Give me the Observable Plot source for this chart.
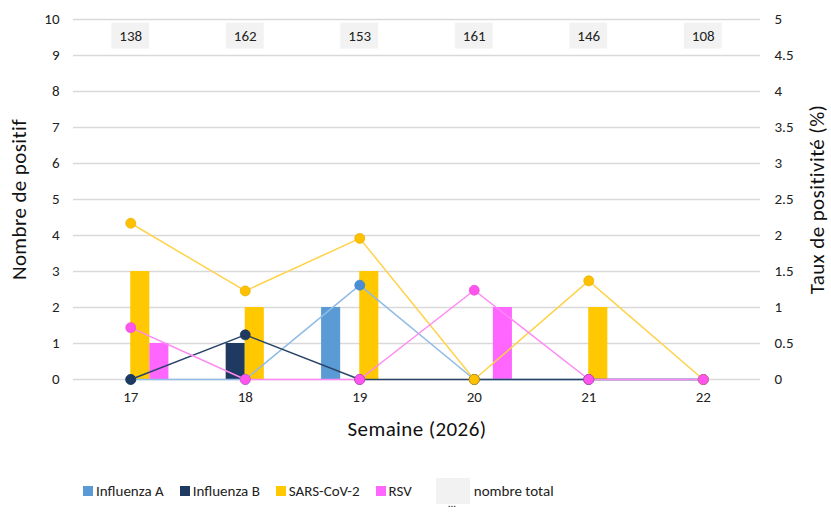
<!DOCTYPE html>
<html><head><meta charset="utf-8">
<script src="https://cdn.jsdelivr.net/npm/d3@7"></script>
<script src="https://cdn.jsdelivr.net/npm/@observablehq/plot@0.6"></script>
<style>
body{margin:0;background:#fff;font-family:Carlito,Lato,sans-serif;}
#legend{position:absolute;top:478px;left:83px;display:flex;align-items:center;font-size:15px;color:#222;}
.it{display:flex;align-items:center;margin-right:16px;}
.sw{width:10px;height:10px;margin-right:3px;}
.tot{width:34px;height:26px;background:#f2f2f2;margin-right:4px;position:relative;}
.tot span{position:absolute;bottom:-6px;left:12px;font-size:11px;}
</style></head><body>
<div id="chart"></div>
<div id="legend"></div>
<script>
const weeks = [17, 18, 19, 20, 21, 22];
const totals = [138, 162, 153, 161, 146, 108];
const seriesNames = ["Influenza A", "Influenza B", "SARS-CoV-2", "RSV"];
const barColors = ["#5b9bd5", "#1f3a60", "#ffc800", "#ff66ff"];
const lineColors = ["#8fbbe6", "#2a4468", "#ffd24a", "#ff88f5"];
const dotColors = ["#4a8ed6", "#1f3a60", "#ffc000", "#ff55ee"];
const countsInfA = [0, 0, 2, 0, 0, 0];
const countsInfB = [0, 1, 0, 0, 0, 0];
const countsSars = [3, 2, 3, 0, 2, 0];
const countsRsv = [1, 0, 0, 2, 0, 0];
const ratesInfA = [0, 0, 1.31, 0, 0, 0];
const ratesInfB = [0, 0.62, 0, 0, 0, 0];
const ratesSars = [2.17, 1.23, 1.96, 0, 1.37, 0];
const ratesRsv = [0.72, 0, 0, 1.24, 0, 0];
const leftTicks = [0,1,2,3,4,5,6,7,8,9,10];

const counts = [countsInfA, countsInfB, countsSars, countsRsv];
const rates = [ratesInfA, ratesInfB, ratesSars, ratesRsv];
const rows = [];
seriesNames.forEach((s, i) => weeks.forEach((w, j) => rows.push({series: s, idx: i, week: w, count: counts[i][j], rate: rates[i][j]})));
const totRows = weeks.map((w, j) => ({week: w, total: totals[j]}));

const titles = ["Nombre de positif", "Taux de positivité (%)", "Semaine (2026)"];
const marks = [
  Plot.gridY(leftTicks, {stroke: "#d9d9d9", strokeOpacity: 1, strokeWidth: 1.5}),
  Plot.axisY(leftTicks, {anchor: "left", tickSize: 0, tickPadding: 14, fontSize: 15, label: null}),
  Plot.axisY(leftTicks, {anchor: "right", tickSize: 0, tickPadding: 14, fontSize: 15, tickFormat: d => String(d / 2), textAnchor: "start", label: null}),
  Plot.text([titles[0]], {frameAnchor: "left", textAnchor: "middle", rotate: -90, dx: -54, fontSize: 21, fill: "#111"}),
  Plot.text([titles[1]], {frameAnchor: "right", textAnchor: "middle", rotate: -90, dx: 57, fontSize: 21, fill: "#111"}),
  Plot.axisX(weeks, {tickSize: 0, tickPadding: 12, fontSize: 15, tickFormat: d => String(d), label: null}),
  Plot.text([titles[2]], {frameAnchor: "bottom", textAnchor: "middle", dy: 56, fontSize: 21, fill: "#111"}),
  Plot.rectY(rows.filter(d => d.count > 0), {x1: d => d.week + (d.idx - 2) / 6, x2: d => d.week + (d.idx - 1) / 6, y1: 0, y2: "count", fill: d => barColors[d.idx]}),
  Plot.rect(totRows, {x1: d => d.week - 0.165, x2: d => d.week + 0.165, y1: 9.18, y2: 9.9, fill: "#f2f2f2"}),
  Plot.text(totRows, {x: "week", y: 9.54, text: d => String(d.total), fontSize: 15, fill: "#222"})
];
seriesNames.forEach((s, i) => marks.push(Plot.line(rows.filter(d => d.idx === i), {x: "week", y: d => d.rate * 2, stroke: lineColors[i], strokeWidth: 1.5})));
seriesNames.forEach((s, i) => marks.push(Plot.dot(rows.filter(d => d.idx === i), {x: "week", y: d => d.rate * 2, r: 5, fill: dotColors[i], stroke: d3.color(dotColors[i]).darker(0.3).formatHex(), strokeWidth: 0.7})));

const chart = Plot.plot({
  width: 831, height: 460,
  marginTop: 19, marginBottom: 81, marginLeft: 73, marginRight: 71,
  style: {fontFamily: "Carlito, Lato, sans-serif", fontSize: "13px", color: "#222", background: "#fff"},
  x: {type: "linear", domain: [16.5, 22.5], axis: null},
  y: {domain: [0, 10], axis: null},
  marks
});
chart.querySelectorAll("text").forEach(t => { if (titles.includes(t.textContent)) t.style.letterSpacing = "0.4px"; });
document.getElementById("chart").appendChild(chart);

const lg = document.getElementById("legend");
seriesNames.forEach((s, i) => {
  const it = document.createElement("div"); it.className = "it";
  if (i === 3) it.style.marginRight = "24px";
  it.innerHTML = `<div class="sw" style="background:${barColors[i]}"></div><span>${s}</span>`;
  lg.appendChild(it);
});
const tt = document.createElement("div"); tt.className = "it";
tt.innerHTML = `<div class="tot"><span>...</span></div><span>nombre total</span>`;
lg.appendChild(tt);
</script></body></html>
